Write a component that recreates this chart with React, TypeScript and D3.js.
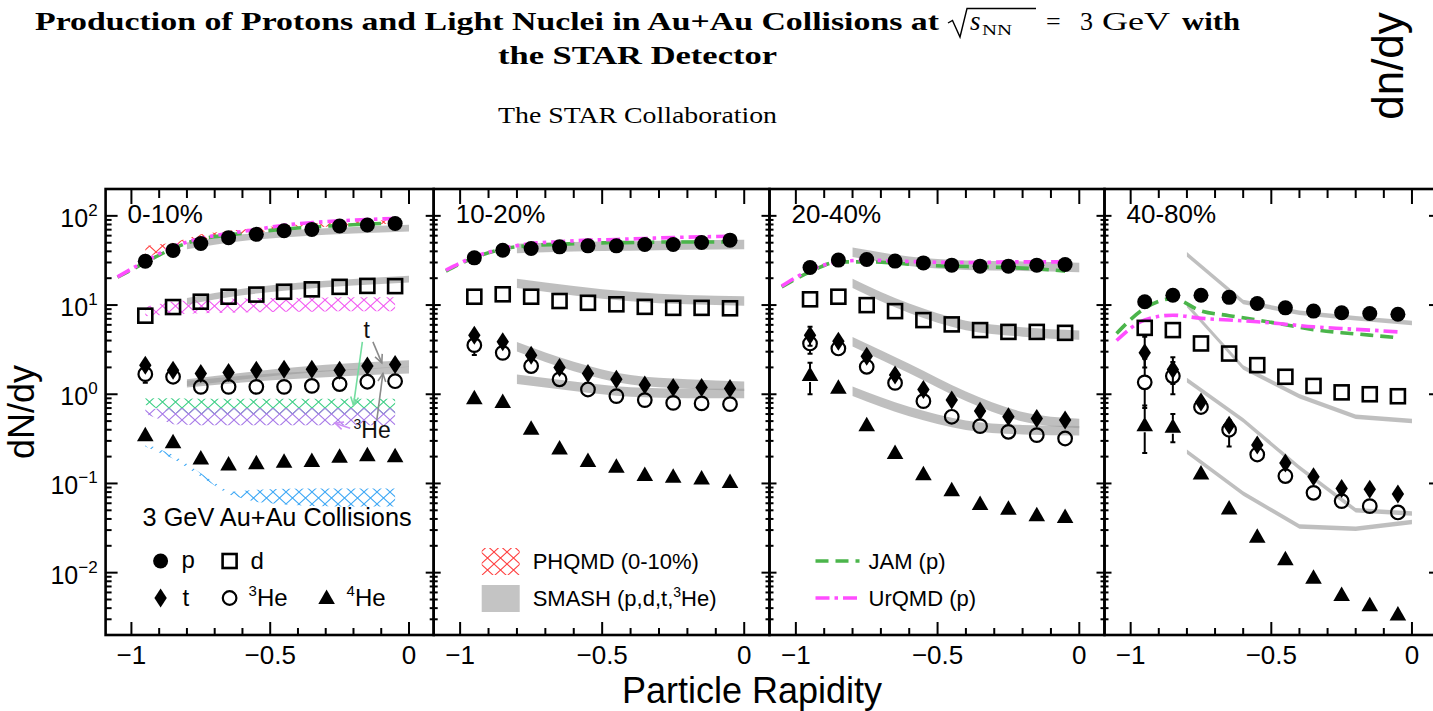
import React from 'react';
import * as d3 from 'd3';

// ---------- binning ----------
const rapidity = [-0.95, -0.85, -0.75, -0.65, -0.55, -0.45, -0.35, -0.25, -0.15, -0.05];
const modelRapidity = [-1.05, -0.95, -0.85, -0.75, -0.65, -0.55, -0.45, -0.35, -0.25, -0.15, -0.05];
const smashRapidity = [-0.8, -0.6, -0.4, -0.2, 0];
const centralities = ['0-10%', '10-20%', '20-40%', '40-80%'];

// ---------- STAR measurements (dN/dy) ----------
const proton_0_10 = [31, 41, 49, 57, 62, 68, 70.5, 77, 79, 82];
const deuteron_0_10 = [7.6, 9.5, 10.9, 12.4, 13.1, 14.1, 15, 16, 16.4, 16.3];
const triton_0_10 = [2.12, 1.86, 1.71, 1.75, 1.86, 1.91, 1.91, 1.86, 2.08, 2.16];
const helium3_0_10 = [1.68, 1.57, 1.21, 1.21, 1.21, 1.21, 1.24, 1.3, 1.38, 1.4];
const helium4_0_10 = [0.348, 0.29, 0.19, 0.163, 0.168, 0.175, 0.179, 0.199, 0.207, 0.202];

const proton_10_20 = [33.8, 41.2, 43, 44.9, 46.1, 46.1, 47.8, 47.8, 50.3, 53.4];
const deuteron_10_20 = [12.4, 13.2, 12.4, 11.1, 10.6, 10.2, 9.55, 9.3, 9.3, 9.2];
const triton_10_20 = [4.6, 3.87, 2.74, 2.0, 1.71, 1.47, 1.27, 1.19, 1.19, 1.16];
const helium3_10_20 = [3.55, 2.91, 2.07, 1.47, 1.13, 0.953, 0.86, 0.8, 0.79, 0.775];
const helium4_10_20 = [0.9, 0.82, 0.41, 0.247, 0.178, 0.154, 0.124, 0.119, 0.114, 0.104];

const proton_20_40 = [26.4, 31.9, 32.4, 31.1, 29.7, 28, 27.3, 27.3, 28, 28.5];
const deuteron_20_40 = [11.6, 12.4, 9.98, 8.55, 6.78, 6.07, 5.24, 5.0, 5.0, 4.88];
const triton_20_40 = [4.6, 3.94, 2.67, 1.64, 1.13, 0.86, 0.647, 0.559, 0.536, 0.513];
const helium3_20_40 = [3.71, 3.26, 2.03, 1.34, 0.837, 0.559, 0.439, 0.379, 0.348, 0.319];
const helium4_20_40 = [1.64, 1.18, 0.45, 0.22, 0.127, 0.084, 0.059, 0.052, 0.044, 0.042];

const proton_40_80 = [10.9, 12.9, 12.9, 12.2, 10.4, 9.3, 8.55, 8.2, 8.05, 7.9];
const deuteron_40_80 = [5.55, 5.24, 3.71, 2.86, 2.12, 1.57, 1.24, 1.05, 1.0, 0.95];
const triton_40_80 = [2.91, 1.9, 0.82, 0.45, 0.269, 0.17, 0.119, 0.088, 0.086, 0.076];
const helium3_40_80 = [1.36, 1.6, 0.72, 0.4, 0.211, 0.121, 0.0785, 0.0634, 0.0557, 0.0473];
const helium4_40_80 = [0.45, 0.431, 0.129, 0.0525, 0.0252, 0.0141, 0.00875, 0.0056, 0.00432, 0.0034];

// statistical error bars large enough to be visible: species, bin index, low, high
const errors_0_10 = [{ s: 'he3', i: 0, lo: 1.35, hi: 1.95 }];
const errors_10_20 = [{ s: 'he3', i: 0, lo: 2.75, hi: 4.3 }];
const errors_20_40 = [
  { s: 't', i: 0, lo: 3.5, hi: 5.7 },
  { s: 'he3', i: 0, lo: 2.85, hi: 4.6 },
  { s: 'he4', i: 0, lo: 1.0, hi: 2.25 },
];
const errors_40_80 = [
  { s: 't', i: 0, lo: 2.0, hi: 4.4 },
  { s: 'he3', i: 0, lo: 0.7, hi: 2.5 },
  { s: 'he4', i: 0, lo: 0.22, hi: 0.75 },
  { s: 't', i: 1, lo: 1.3, hi: 2.6 },
  { s: 'he3', i: 1, lo: 1.0, hi: 2.3 },
  { s: 'he4', i: 1, lo: 0.29, hi: 0.6 },
  { s: 'he3', i: 3, lo: 0.26, hi: 0.51 },
];

// ---------- transport models (protons) ----------
const jam_0_10 = [20.5, 30, 43, 55, 61, 66, 71, 75, 78, 81, 83];
const urqmd_0_10 = [20.7, 31, 44.9, 55.8, 63.5, 70.4, 78.6, 84, 88, 91, 93.5];
const jam_10_20 = [24, 34, 42.5, 46.5, 48, 49.5, 50, 50.5, 51, 51, 51];
const urqmd_10_20 = [24.6, 34.7, 43, 49, 51.3, 53.4, 54.4, 55.8, 57.2, 58.2, 59];
const jam_20_40 = [16, 23.6, 30.5, 30.5, 29.5, 28, 27.3, 26.8, 26.3, 25.5, 24];
const urqmd_20_40 = [16.3, 24.6, 30.5, 31.9, 31.1, 30.5, 30, 30, 30.5, 30.5, 30.5];
const jam_40_80 = [4.8, 9.2, 11.8, 8.6, 7.6, 6.8, 6.0, 5.3, 4.9, 4.6, 4.3];
const urqmd_40_80 = [4.0, 6.8, 7.7, 7.1, 6.8, 6.5, 6.1, 5.7, 5.45, 5.24, 5.0];

// ---------- SMASH (p, d, t, 3He) central values and relative uncertainty ----------
const smashP_0_10 = [46, 57, 64, 69, 73];
const smashD_0_10 = [11, 14, 16.3, 18, 19.5];
const smashT_0_10 = [1.35, 1.6, 1.85, 2.05, 2.2];
const smashHe3_0_10 = [1.3, 1.48, 1.63, 1.76, 1.86];
const smashP_10_20 = [43, 45, 46, 47, 47.8];
const smashD_10_20 = [17.5, 14.5, 12.5, 11.5, 11.1];
const smashT_10_20 = [3.4, 2.05, 1.45, 1.3, 1.23];
const smashHe3_10_20 = [1.47, 1.23, 1.06, 1.02, 1.02];
const smashP_20_40 = [39, 31, 28, 27.3, 26.4];
const smashD_20_40 = [17.5, 9.2, 5.9, 5.0, 4.6];
const smashT_20_40 = [3.87, 1.94, 0.95, 0.56, 0.47];
const smashHe3_20_40 = [1.08, 0.64, 0.45, 0.4, 0.39];
const smashP_40_80 = [37, 10.8, 8.2, 7.1, 6.3];
const smashD_40_80 = [10, 2.0, 0.95, 0.56, 0.5];
const smashT_40_80 = [1.44, 0.51, 0.15, 0.05, 0.046];
const smashHe3_40_80 = [0.226, 0.077, 0.033, 0.031, 0.037];
const smashRelWidth = [0.09, 0.13, 0.13, 0.06];

// ---------- PHQMD (0-10%) bands: low / high ----------
const phqmdPLow = [34, 44, 54, 60, 65, 70, 74, 77, 80, 82];
const phqmdPHigh = [46, 50, 62, 68, 73, 78, 82, 85, 88, 90];
const phqmdDLow = [7.5, 7.9, 8.1, 8.2, 8.3, 8.4, 8.4, 8.5, 8.5, 8.5];
const phqmdDHigh = [9.6, 11.0, 11.5, 11.8, 12.0, 12.0, 12.1, 12.2, 12.2, 12.2];
const phqmdTLow = [0.76, 0.62, 0.6, 0.6, 0.6, 0.6, 0.6, 0.6, 0.6, 0.6];
const phqmdTHigh = [0.9, 0.9, 0.89, 0.89, 0.89, 0.89, 0.89, 0.89, 0.89, 0.89];
const phqmdHe3Low = [0.6, 0.46, 0.45, 0.45, 0.45, 0.45, 0.45, 0.45, 0.45, 0.45];
const phqmdHe3High = [0.68, 0.7, 0.7, 0.7, 0.7, 0.7, 0.7, 0.7, 0.7, 0.7];
const phqmdHe4Low = [0.26, 0.19, 0.12, 0.075, 0.062, 0.058, 0.056, 0.055, 0.055, 0.055];
const phqmdHe4High = [0.28, 0.21, 0.13, 0.08, 0.085, 0.087, 0.088, 0.088, 0.088, 0.088];

// ---------- axis ticks ----------
const xMajorTicks = [-1, -0.5, 0];
const xTickLabels = ['\u22121', '\u22120.5', '0'];
const yMajorTicks = [0.01, 0.1, 1, 10, 100];
const yExponents = ['\u22122', '\u22121', '0', '1', '2'];

// ---------- annotation arrows in the 0-10% panel (rapidity, dN/dy) ----------
const tLabelAt = [-0.152, 4.26];
const he3LabelAt = [-0.2, 0.32];
const annotArrows = [
  { from: [-0.13, 3.86], to: [-0.098, 2.25], color: '#8a8a8a' },
  { from: [-0.168, 3.86], to: [-0.2, 0.755], color: '#74dda0' },
  { from: [-0.116, 0.513], to: [-0.094, 1.71], color: '#8a8a8a' },
  { from: [-0.212, 0.417], to: [-0.266, 0.474], color: '#cc8ef5' },
];

// ---------- layout ----------
const W = 1433;
const H = 711;
const TOP = 189;
const BOTTOM = 635;
const panelEdges = [105.6, 433.7, 769.5, 1104.5, 1437];
const xDomain: [number, number] = [-1.093, 0.089];
const yScale = d3.scaleLog().domain([0.002, 200]).range([BOTTOM, TOP]);
const FONT = "'Liberation Sans', Arial, Helvetica, sans-serif";
const SERIF = "'Liberation Serif', 'Times New Roman', serif";

const GRAY_BAND = '#9c9c9c';
const JAM_COLOR = '#4bb54b';
const URQMD_COLOR = '#ff4dff';

type Spec = {
  label: string;
  p: number[]; d: number[]; t: number[]; he3: number[]; he4: number[];
  jam: number[]; urqmd: number[];
  smash: number[][];
  smashW: number;
  errors: { s: string; i: number; lo: number; hi: number }[];
};

const specs: Spec[] = [
  { label: centralities[0], p: proton_0_10, d: deuteron_0_10, t: triton_0_10, he3: helium3_0_10, he4: helium4_0_10,
    jam: jam_0_10, urqmd: urqmd_0_10, smash: [smashP_0_10, smashD_0_10, smashT_0_10, smashHe3_0_10], smashW: smashRelWidth[0], errors: errors_0_10 },
  { label: centralities[1], p: proton_10_20, d: deuteron_10_20, t: triton_10_20, he3: helium3_10_20, he4: helium4_10_20,
    jam: jam_10_20, urqmd: urqmd_10_20, smash: [smashP_10_20, smashD_10_20, smashT_10_20, smashHe3_10_20], smashW: smashRelWidth[1], errors: errors_10_20 },
  { label: centralities[2], p: proton_20_40, d: deuteron_20_40, t: triton_20_40, he3: helium3_20_40, he4: helium4_20_40,
    jam: jam_20_40, urqmd: urqmd_20_40, smash: [smashP_20_40, smashD_20_40, smashT_20_40, smashHe3_20_40], smashW: smashRelWidth[2], errors: errors_20_40 },
  { label: centralities[3], p: proton_40_80, d: deuteron_40_80, t: triton_40_80, he3: helium3_40_80, he4: helium4_40_80,
    jam: jam_40_80, urqmd: urqmd_40_80, smash: [smashP_40_80, smashD_40_80, smashT_40_80, smashHe3_40_80], smashW: smashRelWidth[3], errors: errors_40_80 },
];

const phqmdBands = [
  { lo: phqmdPLow, hi: phqmdPHigh, pat: 'hatch-red' },
  { lo: phqmdDLow, hi: phqmdDHigh, pat: 'hatch-magenta' },
  { lo: phqmdTLow, hi: phqmdTHigh, pat: 'hatch-green' },
  { lo: phqmdHe3Low, hi: phqmdHe3High, pat: 'hatch-purple' },
  { lo: phqmdHe4Low, hi: phqmdHe4High, pat: 'hatch-blue' },
];

// ---------- marker shapes ----------
function Marker({ kind, x, y }: { kind: string; x: number; y: number }) {
  switch (kind) {
    case 'p':
      return <circle cx={x} cy={y} r={7.5} fill="#000" />;
    case 'd':
      return <rect x={x - 7} y={y - 7} width={14} height={14} fill="none" stroke="#000" strokeWidth={2.6} />;
    case 't':
      return <path d={`M${x},${y - 9.5} L${x + 6.2},${y} L${x},${y + 9.5} L${x - 6.2},${y} Z`} fill="#000" />;
    case 'he3':
      return <circle cx={x} cy={y} r={6.8} fill="none" stroke="#000" strokeWidth={2.2} />;
    case 'he4':
      return <path d={`M${x},${y - 8.5} L${x + 8.3},${y + 6} L${x - 8.3},${y + 6} Z`} fill="#000" />;
    default:
      return null;
  }
}

function Arrow({ x1, y1, x2, y2, color }: { x1: number; y1: number; x2: number; y2: number; color: string }) {
  const a = Math.atan2(y2 - y1, x2 - x1);
  const L = 9;
  const s = 0.45;
  const hx1 = x2 - L * Math.cos(a - s);
  const hy1 = y2 - L * Math.sin(a - s);
  const hx2 = x2 - L * Math.cos(a + s);
  const hy2 = y2 - L * Math.sin(a + s);
  return (
    <g stroke={color} strokeWidth={1.6} fill="none">
      <line x1={x1} y1={y1} x2={x2} y2={y2} />
      <path d={`M${hx1},${hy1} L${x2},${y2} L${hx2},${hy2}`} />
    </g>
  );
}

function Panel({ idx, spec }: { idx: number; spec: Spec }) {
  const x0 = panelEdges[idx];
  const x1 = panelEdges[idx + 1];
  const xs = d3.scaleLinear().domain(xDomain).range([x0, x1]);
  const clipId = `clip-${idx}`;

  const modelLine = d3
    .line<number>()
    .x((_, i) => xs(modelRapidity[i]))
    .y((v) => yScale(v))
    .curve(d3.curveMonotoneX);

  const w = spec.smashW;
  const smashArea = d3
    .area<number>()
    .x((_, i) => xs(smashRapidity[i]))
    .y0((v) => yScale(v / (1 + w)))
    .y1((v) => yScale(v * (1 + w)))
    .curve(idx === 3 ? d3.curveLinear : d3.curveMonotoneX);

  const hatchArea = (lo: number[], hi: number[]) =>
    d3
      .area<number>()
      .x((_, i) => xs(rapidity[i]))
      .y0((_, i) => yScale(lo[i]))
      .y1((_, i) => yScale(hi[i]))(lo) || '';

  // ticks
  const xMinor = d3.range(-10, 1).map((k) => k / 10).filter((v) => Math.abs(v * 2 - Math.round(v * 2)) > 1e-6);
  const yMinor: number[] = [];
  for (let e = -3; e <= 2; e++) {
    for (let m = 2; m <= 9; m++) {
      const v = m * Math.pow(10, e);
      if (v >= 0.002 && v <= 200) yMinor.push(v);
    }
  }
  const leftMajor = idx === 0 ? 12 : 7;
  const leftMinor = idx === 0 ? 6 : 4;
  const rightMajor = 8;
  const rightMinor = 4;

  const series: [string, number[]][] = [
    ['p', spec.p],
    ['d', spec.d],
    ['t', spec.t],
    ['he3', spec.he3],
    ['he4', spec.he4],
  ];
  const seriesMap: Record<string, number[]> = { p: spec.p, d: spec.d, t: spec.t, he3: spec.he3, he4: spec.he4 };

  return (
    <g>
      <defs>
        <clipPath id={clipId}>
          <rect x={x0} y={TOP} width={x1 - x0} height={BOTTOM - TOP} />
        </clipPath>
      </defs>
      <g clipPath={`url(#${clipId})`}>
        {idx === 0 &&
          phqmdBands.map((b, k) => <path key={k} d={hatchArea(b.lo, b.hi)} fill={`url(#${b.pat})`} stroke="none" />)}
        {spec.smash.map((vals, k) => (
          <path key={k} d={smashArea(vals) || ''} fill={GRAY_BAND} fillOpacity={0.65} stroke="none" />
        ))}
        <path d={modelLine(spec.jam) || ''} fill="none" stroke={JAM_COLOR} strokeWidth={3.6} strokeDasharray="13 7" />
        <path d={modelLine(spec.urqmd) || ''} fill="none" stroke={URQMD_COLOR} strokeWidth={3.6} strokeDasharray="14 5 3.5 5" />

        {spec.errors.map((e, k) => {
          const v = seriesMap[e.s][e.i];
          const cx = xs(rapidity[e.i]);
          const cy = yScale(v);
          const yh = yScale(e.hi);
          const yl = yScale(e.lo);
          return (
            <g key={k} stroke="#000" strokeWidth={2}>
              {yh < cy - 7 && <line x1={cx} x2={cx} y1={yh} y2={cy - 7} />}
              {yl > cy + 7 && <line x1={cx} x2={cx} y1={cy + 7} y2={yl} />}
              <line x1={cx - 2.5} x2={cx + 2.5} y1={yh} y2={yh} />
              <line x1={cx - 2.5} x2={cx + 2.5} y1={yl} y2={yl} />
            </g>
          );
        })}

        {series.map(([kind, vals]) =>
          vals.map((v, i) => <Marker key={`${kind}-${i}`} kind={kind} x={xs(rapidity[i])} y={yScale(v)} />)
        )}

        {idx === 0 && (
          <g>
            {annotArrows.map((a, k) => (
              <Arrow key={k} x1={xs(a.from[0])} y1={yScale(a.from[1])} x2={xs(a.to[0])} y2={yScale(a.to[1])} color={a.color} />
            ))}
            <text x={xs(tLabelAt[0])} y={yScale(tLabelAt[1])} fontSize={23} textAnchor="middle" fill="#111">t</text>
            <text x={xs(he3LabelAt[0])} y={yScale(he3LabelAt[1])} fontSize={23} fill="#111">
              <tspan fontSize={14} dy={-9}>3</tspan>
              <tspan dy={9}>He</tspan>
            </text>
          </g>
        )}
      </g>

      {/* frame */}
      <rect x={x0} y={TOP} width={x1 - x0} height={BOTTOM - TOP} fill="none" stroke="#000" strokeWidth={2.6} />

      {/* x and y ticks */}
      <g stroke="#000" strokeWidth={2}>
        {xMajorTicks.map((v) => (
          <g key={`xM${v}`}>
            <line x1={xs(v)} x2={xs(v)} y1={BOTTOM} y2={BOTTOM - 13} />
            <line x1={xs(v)} x2={xs(v)} y1={TOP} y2={TOP + 15} />
          </g>
        ))}
        {xMinor.map((v) => (
          <g key={`xm${v}`}>
            <line x1={xs(v)} x2={xs(v)} y1={BOTTOM} y2={BOTTOM - 7} />
            <line x1={xs(v)} x2={xs(v)} y1={TOP} y2={TOP + 9} />
          </g>
        ))}
        {yMajorTicks.map((v) => (
          <g key={`yM${v}`}>
            <line x1={x0} x2={x0 + leftMajor} y1={yScale(v)} y2={yScale(v)} />
            <line x1={x1} x2={x1 - rightMajor} y1={yScale(v)} y2={yScale(v)} />
          </g>
        ))}
        {yMinor.map((v) => (
          <g key={`ym${v}`}>
            <line x1={x0} x2={x0 + leftMinor} y1={yScale(v)} y2={yScale(v)} />
            <line x1={x1} x2={x1 - rightMinor} y1={yScale(v)} y2={yScale(v)} />
          </g>
        ))}
      </g>

      {/* x tick labels */}
      {xMajorTicks.map((v, k) => (
        <text key={`xl${v}`} x={xs(v)} y={BOTTOM + 29} fontSize={26} textAnchor="middle" fill="#000">
          {xTickLabels[k]}
        </text>
      ))}

      {/* y tick labels on the first panel */}
      {idx === 0 &&
        yMajorTicks.map((v, k) => (
          <text key={`yl${v}`} x={x0 - 8} y={yScale(v) + 11} fontSize={25} textAnchor="end" fill="#000">
            <tspan>10</tspan>
            <tspan fontSize={17} dy={-11}>{yExponents[k]}</tspan>
          </text>
        ))}

      {/* centrality label */}
      <text x={x0 + 22} y={TOP + 34} fontSize={26} fill="#000">{spec.label}</text>
    </g>
  );
}

function HatchPattern({ id, color }: { id: string; color: string }) {
  return (
    <pattern id={id} width={13} height={12} patternUnits="userSpaceOnUse">
      <path d="M0,0 L13,12 M13,0 L0,12" stroke={color} strokeWidth={1.1} fill="none" />
    </pattern>
  );
}

export default function App() {
  const p1 = panelEdges[0];
  const p2 = panelEdges[1];
  const p3 = panelEdges[2];
  return (
    <svg
      width={W}
      height={H}
      viewBox={`0 0 ${W} ${H}`}
      style={{ position: 'absolute', left: 0, top: 0, background: '#fff' }}
      fontFamily={FONT}
    >
      <defs>
        <HatchPattern id="hatch-red" color="#ff4040" />
        <HatchPattern id="hatch-magenta" color="#f25cf2" />
        <HatchPattern id="hatch-green" color="#3fcf86" />
        <HatchPattern id="hatch-purple" color="#a77ae8" />
        <HatchPattern id="hatch-blue" color="#3ea8f5" />
      </defs>
      <rect x={0} y={0} width={W} height={H} fill="#fff" />

      {/* header */}
      <g fontFamily={SERIF} fill="#000">
        <text x={35} y={30} fontSize={26} fontWeight="bold" textLength={904} lengthAdjust="spacingAndGlyphs">
          Production of Protons and Light Nuclei in Au+Au Collisions at
        </text>
        <path d="M948,23 L952.5,20.5 L960,37 L967,8.5 L1036,8.5" fill="none" stroke="#000" strokeWidth={1.4} />
        <text x={970} y={30} fontSize={27} fontStyle="italic">s</text>
        <text x={982} y={35} fontSize={15} textLength={30} lengthAdjust="spacingAndGlyphs">NN</text>
        <text x={1046} y={30} fontSize={26}>=</text>
        <text x={1080} y={30} fontSize={26}>3</text>
        <text x={1102} y={30} fontSize={26} textLength={68} lengthAdjust="spacingAndGlyphs">GeV</text>
        <text x={1182} y={30} fontSize={26} fontWeight="bold" textLength={58} lengthAdjust="spacingAndGlyphs">with</text>
        <text x={498} y={64} fontSize={26} fontWeight="bold" textLength={279} lengthAdjust="spacingAndGlyphs">
          the STAR Detector
        </text>
        <text x={498} y={123} fontSize={23} textLength={279} lengthAdjust="spacingAndGlyphs">
          The STAR Collaboration
        </text>
      </g>
      <text x={0} y={0} fontSize={44} textAnchor="middle" transform="translate(1403,66) rotate(-90)" fill="#000">
        dn/dy
      </text>

      {specs.map((s, k) => (
        <Panel key={k} idx={k} spec={s} />
      ))}

      {/* axis titles */}
      <text x={0} y={0} fontSize={36} textAnchor="middle" transform="translate(34,412) rotate(-90)" fill="#000">
        dN/dy
      </text>
      <text x={752} y={703} fontSize={36} textAnchor="middle" fill="#000">Particle Rapidity</text>

      {/* species legend */}
      <g fill="#000">
        <text x={p1 + 37} y={526} fontSize={25} textLength={269} lengthAdjust="spacingAndGlyphs">3 GeV Au+Au Collisions</text>
        <Marker kind="p" x={p1 + 55} y={561} />
        <text x={p1 + 76} y={568} fontSize={24}>p</text>
        <Marker kind="d" x={p1 + 124} y={561} />
        <text x={p1 + 145} y={569} fontSize={24}>d</text>
        <Marker kind="t" x={p1 + 55} y={598} />
        <text x={p1 + 77} y={606} fontSize={24}>t</text>
        <Marker kind="he3" x={p1 + 124} y={598} />
        <text x={p1 + 143} y={606} fontSize={24}>
          <tspan fontSize={15} dy={-10}>3</tspan>
          <tspan dy={10}>He</tspan>
        </text>
        <Marker kind="he4" x={p1 + 221} y={598} />
        <text x={p1 + 241} y={606} fontSize={24}>
          <tspan fontSize={15} dy={-10}>4</tspan>
          <tspan dy={10}>He</tspan>
        </text>
      </g>

      {/* model legends */}
      <g fill="#000">
        <rect x={p2 + 48} y={548} width={38} height={27} fill="url(#hatch-red)" />
        <text x={p2 + 99} y={569} fontSize={22}>PHQMD (0-10%)</text>
        <rect x={p2 + 48} y={585} width={38} height={27} fill="#c4c4c4" />
        <text x={p2 + 99} y={606} fontSize={22}>
          SMASH (p,d,t,<tspan fontSize={14} dy={-9}>3</tspan>
          <tspan dy={9}>He)</tspan>
        </text>

        <line x1={p3 + 46} x2={p3 + 90} y1={561} y2={561} stroke={JAM_COLOR} strokeWidth={3.6} strokeDasharray="13 7" />
        <text x={p3 + 99} y={569} fontSize={22}>JAM (p)</text>
        <line x1={p3 + 46} x2={p3 + 90} y1={598} y2={598} stroke={URQMD_COLOR} strokeWidth={3.6} strokeDasharray="14 5 3.5 5" />
        <text x={p3 + 99} y={606} fontSize={22}>UrQMD (p)</text>
      </g>
    </svg>
  );
}
